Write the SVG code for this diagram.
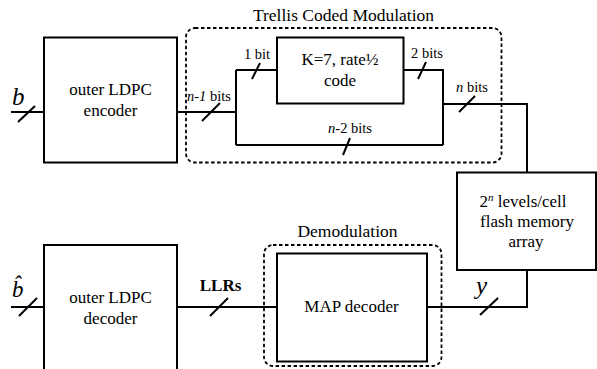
<svg xmlns="http://www.w3.org/2000/svg" width="597" height="369" viewBox="0 0 597 369">
<style>
.box{fill:#fff;stroke:#000;stroke-width:2}
.w{fill:none;stroke:#000;stroke-width:2}
.dot{fill:none;stroke:#000;stroke-width:1.8;stroke-dasharray:3.5 2.5}
text{font-family:'Liberation Serif','Times New Roman',serif;fill:#000}
.lb{font-size:17px;text-anchor:middle}
.sm{font-size:14.5px;text-anchor:middle}
.ti{font-size:17.5px;text-anchor:middle}
.v{font-size:25px;font-style:italic}
</style>
<rect width="597" height="369" fill="#fff"/>
<g id="tcm-group">
<rect class="dot" x="186" y="28" width="315.5" height="134.5" rx="9"/>
<text class="ti" x="343.5" y="21">Trellis Coded Modulation</text>
</g>
<g id="demod-group">
<rect class="dot" x="264" y="245" width="177.5" height="121" rx="9"/>
<text class="ti" x="347.5" y="237">Demodulation</text>
</g>
<g id="connectors">
<path class="w" d="M11 112H44"/>
<path class="w" d="M18 122L35 106"/>
<path class="w" d="M177 112H236M236 70V145M236 70H277M236 145H443M403 70H443V145M443 104H527V172"/>
<path class="w" d="M202 121L220 103"/>
<path class="w" d="M252 79L260 63"/>
<path class="w" d="M418 79L426 62"/>
<path class="w" d="M343 155L350 138"/>
<path class="w" d="M459 112L475 96"/>
<path class="w" d="M11 307H44"/>
<path class="w" d="M19 316L37 298"/>
<path class="w" d="M177 307H277"/>
<path class="w" d="M210 316L228 298"/>
<path class="w" d="M427 307H527V270"/>
<path class="w" d="M480 315L498 298"/>
<text class="v" x="12" y="105">b</text>
<text class="v" x="12" y="297" style="font-size:23px">b̂</text>
<text class="sm" x="209" y="101"><tspan font-style="italic">n-1</tspan> bits</text>
<text class="sm" x="257" y="59">1 bit</text>
<text class="sm" x="427" y="58">2 bits</text>
<text class="sm" x="350" y="133"><tspan font-style="italic">n</tspan>-2 bits</text>
<text class="sm" x="472" y="92"><tspan font-style="italic">n</tspan> bits</text>
<text x="220.5" y="291" style="font-size:17px;font-weight:bold;text-anchor:middle">LLRs</text>
<text class="v" x="476" y="294">y</text>
</g>
<g id="encoder">
<rect class="box" x="44" y="37.5" width="133" height="125"/>
<text class="lb" x="110.5" y="95">outer LDPC</text>
<text class="lb" x="110.5" y="116">encoder</text>
</g>
<g id="conv-code">
<rect class="box" x="277" y="37.5" width="126.5" height="66"/>
<text class="lb" x="340" y="65">K=7, rate½</text>
<text class="lb" x="340" y="86">code</text>
</g>
<g id="flash">
<rect class="box" x="457" y="172.5" width="139" height="97.5"/>
<text class="lb" x="523" y="207">2<tspan font-size="11" dy="-6" font-style="italic">n</tspan><tspan dy="6"> levels/cell</tspan></text>
<text class="lb" x="527" y="227">flash memory</text>
<text class="lb" x="526" y="247">array</text>
</g>
<g id="decoder">
<rect class="box" x="44" y="245" width="133" height="130"/>
<text class="lb" x="110.5" y="303">outer LDPC</text>
<text class="lb" x="110.5" y="324">decoder</text>
</g>
<g id="map">
<rect class="box" x="277" y="253.5" width="150" height="108"/>
<text class="lb" x="351.5" y="312">MAP decoder</text>
</g>
</svg>
